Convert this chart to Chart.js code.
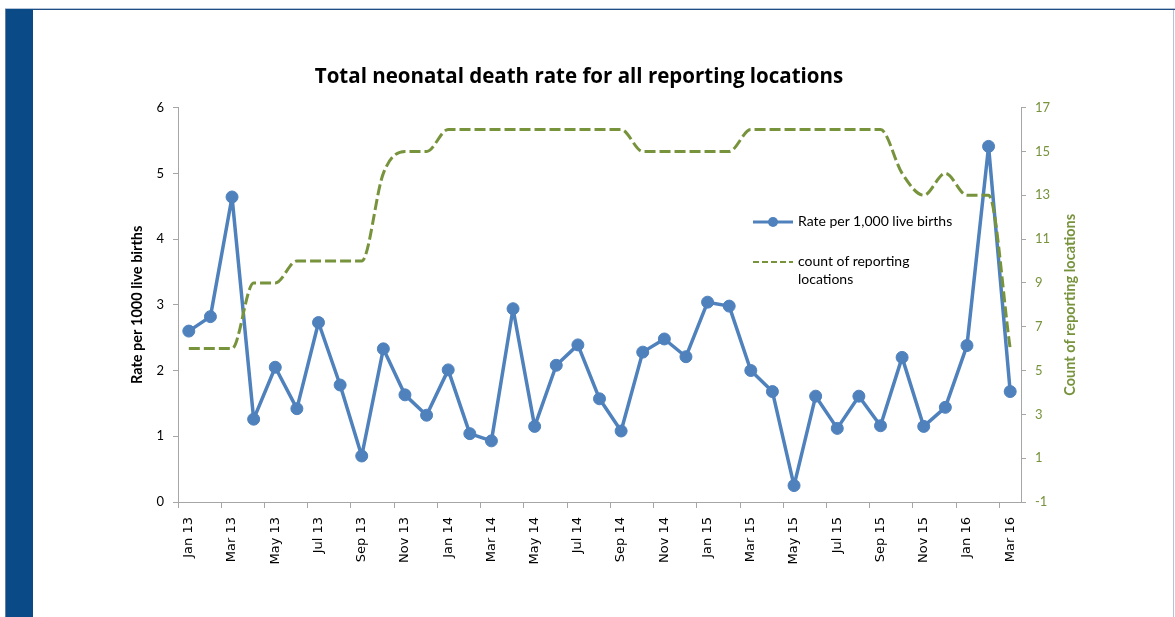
<!DOCTYPE html>
<html>
<head>
<meta charset="utf-8">
<script src="https://cdn.jsdelivr.net/npm/chart.js@4"></script>
<style>
  html, body { margin: 0; padding: 0; background: #fff; }
  body { width: 1175px; height: 617px; position: relative; overflow: hidden; font-family: Lato, "Open Sans", sans-serif; }
  #topline { position: absolute; left: 5px; top: 8px; width: 1170px; height: 1px; background: #b4c4d6; }
  #topline2 { position: absolute; left: 5px; top: 9px; width: 1170px; height: 1px; background: #1f4e86; }
  #sidebar { position: absolute; left: 5px; top: 9px; width: 28px; height: 608px; background: #0a4a86; border-left: 1px solid #5f7fa5; box-sizing: border-box; }
  #rightline { position: absolute; left: 1173px; top: 10px; width: 1px; height: 607px; background: #b4c4d6; }
  #wrap { position: absolute; left: 0; top: 0; width: 1175px; height: 617px; }
  #legend { position: absolute; left: 753px; top: 212px; font-size: 14px; color: #000; line-height: 18px; }
  .item { position: relative; padding-left: 45px; }
  .item svg { position: absolute; left: 0; top: 0; }
</style>
</head>
<body>
<div id="topline"></div>
<div id="topline2"></div>
<div id="sidebar"></div>
<div id="rightline"></div>
<div id="wrap"><canvas id="chart"></canvas></div>
<div id="legend"></div>
<script>
document.addEventListener("DOMContentLoaded", () => {
    const months = [
        "Jan 13", "Feb 13", "Mar 13", "Apr 13", "May 13", "Jun 13", "Jul 13", "Aug 13", "Sep 13", "Oct 13", "Nov 13", "Dec 13",
        "Jan 14", "Feb 14", "Mar 14", "Apr 14", "May 14", "Jun 14", "Jul 14", "Aug 14", "Sep 14", "Oct 14", "Nov 14", "Dec 14",
        "Jan 15", "Feb 15", "Mar 15", "Apr 15", "May 15", "Jun 15", "Jul 15", "Aug 15", "Sep 15", "Oct 15", "Nov 15", "Dec 15",
        "Jan 16", "Feb 16", "Mar 16"
    ];
    const ratePer1000 = [
        2.60, 2.82, 4.64, 1.26, 2.05, 1.42, 2.73, 1.78, 0.70, 2.33, 1.63, 1.32,
        2.01, 1.04, 0.93, 2.94, 1.15, 2.08, 2.39, 1.57, 1.08, 2.28, 2.48, 2.21,
        3.04, 2.98, 2.00, 1.68, 0.25, 1.61, 1.12, 1.61, 1.16, 2.20, 1.15, 1.44,
        2.38, 5.41, 1.68
    ];
    const reportingCount = [
        6, 6, 6, 9, 9, 10, 10, 10, 10, 14, 15, 15,
        16, 16, 16, 16, 16, 16, 16, 16, 16, 15, 15, 15,
        15, 15, 16, 16, 16, 16, 16, 16, 16, 14, 13, 14,
        13, 13, 6
    ];
    const leftTicks = [0, 1, 2, 3, 4, 5, 6];
    const rightTicks = [-1, 1, 3, 5, 7, 9, 11, 13, 15, 17];

    const rateLabel = "Rate per 1,000 live births";
    const countLabel = "count of reporting locations";
    const blue = "#4F81BD";
    const green = "#77933C";
    const axisGrey = "#A6A6A6";
    const fontFamily = "Lato, 'Open Sans', sans-serif";

    // right axis title reads bottom-to-top, so draw it ourselves
    const rightTitle = {
        id: "rightTitle",
        afterDraw(chart) {
            const c = chart.ctx;
            const s = chart.scales.y2;
            c.save();
            c.translate(s.left + 49, (chart.chartArea.top + chart.chartArea.bottom) / 2);
            c.rotate(-Math.PI / 2);
            c.font = "bold 14.5px " + fontFamily;
            c.fillStyle = green;
            c.textAlign = "center";
            c.textBaseline = "middle";
            c.fillText("Count of reporting locations", 0, 0);
            c.restore();
        }
    };

    const ctx = document.getElementById("chart").getContext("2d");
    new Chart(ctx, {
        type: "line",
        data: {
            labels: months,
            datasets: [{
                label: rateLabel,
                data: ratePer1000,
                yAxisID: "y",
                borderColor: blue,
                backgroundColor: blue,
                borderWidth: 3.5,
                borderJoinStyle: "round",
                pointRadius: 6,
                pointBorderWidth: 1,
                pointBackgroundColor: blue,
                tension: 0,
                order: 1
            }, {
                label: countLabel,
                data: reportingCount,
                yAxisID: "y2",
                borderColor: green,
                borderWidth: 3,
                borderDash: [11, 4],
                pointRadius: 0,
                cubicInterpolationMode: "monotone",
                order: 0
            }]
        },
        options: {
            responsive: true,
            maintainAspectRatio: false,
            animation: false,
            layout: { padding: { left: 0, right: 17, top: 0, bottom: 0 } },
            plugins: {
                legend: { display: false },
                tooltip: { enabled: false },
                title: {
                    display: true,
                    text: "Total neonatal death rate for all reporting locations",
                    color: "#000",
                    font: { family: "'Open Sans', Lato, sans-serif", size: 20.5, weight: "bold" },
                    padding: { top: 65, bottom: 18 }
                }
            },
            scales: {
                x: {
                    offset: true,
                    grid: {
                        offset: true,
                        drawOnChartArea: false,
                        tickLength: 6,
                        color: (c) => (c.index % 2 === 0 ? axisGrey : "rgba(0,0,0,0)")
                    },
                    border: { color: axisGrey, width: 1 },
                    ticks: {
                        autoSkip: false,
                        minRotation: 90,
                        maxRotation: 90,
                        padding: 9,
                        color: "#000",
                        font: { family: "'DejaVu Sans', Verdana, sans-serif", size: 13 },
                        callback: (v, i) => (i % 2 === 0 ? months[i] : "")
                    },
                    afterFit: (s) => { s.height = 115; }
                },
                y: {
                    position: "left",
                    min: 0,
                    max: 6,
                    afterBuildTicks: (s) => { s.ticks = leftTicks.map(v => ({ value: v })); },
                    grid: { drawOnChartArea: false, tickLength: 5, color: axisGrey },
                    border: { color: axisGrey, width: 1 },
                    ticks: {
                        padding: 9,
                        color: "#000",
                        font: { family: fontFamily, size: 13 }
                    },
                    title: {
                        display: true,
                        text: "Rate per 1000 live births",
                        color: "#000",
                        font: { family: fontFamily, size: 14.5, weight: "bold" },
                        padding: { top: 129, bottom: 0 }
                    },
                    afterFit: (s) => { s.width = 178; }
                },
                y2: {
                    position: "right",
                    min: -1,
                    max: 17,
                    afterBuildTicks: (s) => { s.ticks = rightTicks.map(v => ({ value: v })); },
                    grid: { drawOnChartArea: false, tickLength: 5, color: axisGrey },
                    border: { color: axisGrey, width: 1 },
                    ticks: {
                        padding: 9,
                        color: green,
                        font: { family: fontFamily, size: 13 }
                    },
                    afterFit: (s) => { s.width = 137; }
                }
            }
        },
        plugins: [rightTitle]
    });

    // legend sits inside the plot, built from the same labels and colours
    const legend = document.getElementById("legend");
    legend.innerHTML =
        '<div class="item" style="margin-bottom:22px">' +
        '<svg width="42" height="18"><line x1="0" y1="10" x2="40" y2="10" stroke="' + blue + '" stroke-width="3"/>' +
        '<circle cx="20" cy="10" r="5" fill="' + blue + '"/></svg>' + rateLabel + '</div>' +
        '<div class="item">' +
        '<svg width="42" height="18"><line x1="0" y1="10" x2="40" y2="10" stroke="' + green + '" stroke-width="2.2" stroke-dasharray="6 3"/></svg>' +
        'count of reporting<br>locations</div>';
});
</script>
</body>
</html>
